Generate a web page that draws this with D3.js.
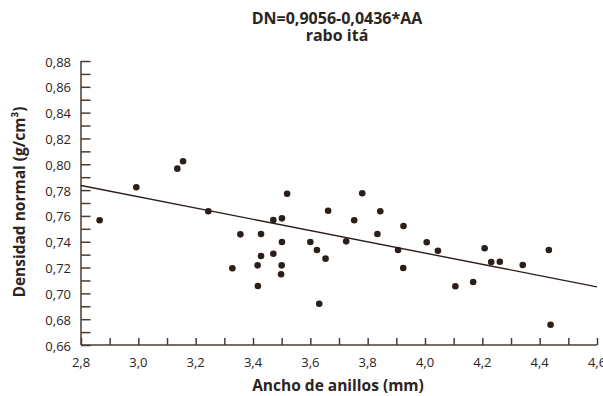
<!DOCTYPE html>
<html><head><meta charset="utf-8">
<script src="https://cdn.jsdelivr.net/npm/d3@7"></script>
<style>body{margin:0;background:#fff}svg{display:block}text{font-family:"Open Sans",sans-serif;fill:#2b2421}</style>
</head><body><svg id="c" width="603" height="396"></svg>
<script>
const titleLines = ["DN=0,9056-0,0436*AA", "rabo itá"];
const xLabel = "Ancho de anillos (mm)";
const yLabel = "Densidad normal (g/cm³)";
const anchoAnillos = [2.865,2.993,3.136,3.156,3.244,3.356,3.328,
 3.519,3.781,3.662,3.844,3.471,3.501,3.753,3.925,3.428,3.834,3.501,3.600,3.725,4.006,3.623,3.906,3.471,3.428,3.653,3.416,3.500,3.924,3.498,3.417,3.631,
 4.045,4.106,4.168,4.208,4.231,4.261,4.341,4.432,4.438];
const densidad = [0.7566,0.7822,0.7966,0.8023,0.7636,0.7457,0.7194,
 0.7772,0.7775,0.7640,0.7636,0.7568,0.7581,0.7566,0.7522,0.7460,0.7460,0.7398,0.7398,0.7403,0.7396,0.7336,0.7336,0.7307,0.7289,0.7269,0.7217,0.7217,0.7197,0.7148,0.7057,0.6920,
 0.7330,0.7055,0.7088,0.7349,0.7243,0.7245,0.7220,0.7336,0.6757];
const intercept = 0.9056, slope = -0.0436;
const xDomain = [2.8, 4.6], yDomain = [0.66, 0.88];
const xTickLabels = [2.8,3.0,3.2,3.4,3.6,3.8,4.0,4.2,4.4,4.6];
const yTickLabels = [0.66,0.68,0.70,0.72,0.74,0.76,0.78,0.80,0.82,0.84,0.86,0.88];

const svg = d3.select("#c");
const L = 81, R = 597, T = 61, B = 345;
const x = d3.scaleLinear().domain(xDomain).range([L, R]);
const y = d3.scaleLinear().domain(yDomain).range([B, T]);
const axisCol = "#4a3d35", ink = "#2b1f1a";
const fmt = d => d3.format(".2f")(d).replace(".", ",");
const fmt1 = d => d3.format(".1f")(d).replace(".", ",");

// minor ticks
const xMinor = d3.range(0, 19).map(i => 2.8 + i * 0.1);
const yMinor = d3.range(0, 23).map(i => 0.66 + i * 0.01);
const gx = svg.append("g").attr("transform", `translate(0,${B})`)
  .call(d3.axisBottom(x).tickValues(xMinor).tickSize(-7).tickFormat(""));
const gy = svg.append("g").attr("transform", `translate(${L},0)`)
  .call(d3.axisLeft(y).tickValues(yMinor).tickSize(-9.5).tickFormat(""));
[gx, gy].forEach(g => { g.selectAll("path,line").attr("stroke", axisCol).attr("stroke-width", 1.5); });
gx.select(".domain").attr("d", `M${L},0H${R}`);
gy.select(".domain").attr("d", `M0,${T}V${B}`);

// labels
svg.append("g").selectAll("text").data(xTickLabels).join("text")
  .attr("x", d => x(d)).attr("y", B + 22).attr("text-anchor", "middle")
  .attr("font-size", 13).text(fmt1);
svg.append("g").selectAll("text").data(yTickLabels).join("text")
  .attr("x", L - 10).attr("y", d => y(d) + 5.5).attr("text-anchor", "end")
  .attr("font-size", 13).text(fmt);

// regression line
svg.append("line")
  .attr("x1", x(xDomain[0])).attr("y1", y(intercept + slope * xDomain[0]))
  .attr("x2", x(xDomain[1])).attr("y2", y(intercept + slope * xDomain[1]))
  .attr("stroke", ink).attr("stroke-width", 1.4);

// points
svg.append("g").selectAll("circle").data(anchoAnillos.map((a, i) => [a, densidad[i]])).join("circle")
  .attr("cx", d => x(d[0])).attr("cy", d => y(d[1])).attr("r", 3.3).attr("fill", ink);

// titles
svg.append("text").attr("x", 337).attr("y", 24).attr("text-anchor", "middle")
  .attr("font-size", 16).attr("font-weight", 700).text(titleLines[0]);
svg.append("text").attr("x", 337).attr("y", 40.5).attr("text-anchor", "middle")
  .attr("font-size", 16).attr("font-weight", 700).text(titleLines[1]);
svg.append("text").attr("x", 338).attr("y", 391).attr("text-anchor", "middle")
  .attr("font-size", 15.5).attr("font-weight", 700).text(xLabel);
svg.append("text").attr("transform", "translate(25,202) rotate(-90)").attr("text-anchor", "middle")
  .attr("font-size", 15.5).attr("font-weight", 700).text(yLabel);
</script></body></html>
